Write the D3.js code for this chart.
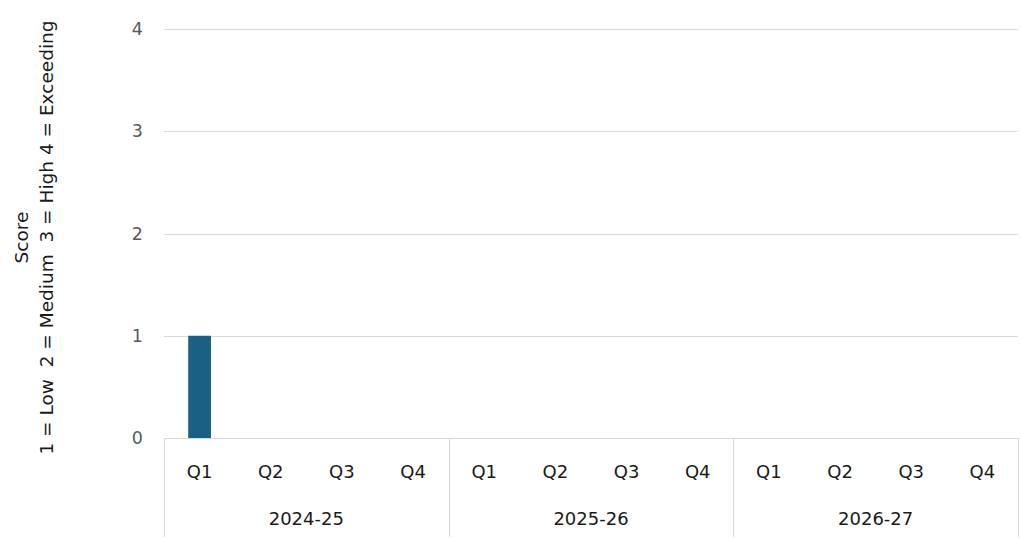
<!DOCTYPE html>
<html>
<head>
<meta charset="utf-8">
<script src="https://cdn.jsdelivr.net/npm/d3@7"></script>
<style>
  html, body { margin: 0; padding: 0; background: #fff; }
  svg { display: block; font-family: "DejaVu Sans", "Liberation Sans", Arial, sans-serif; }
</style>
</head>
<body>
<div id="chart"></div>
<script>
// chart data
const years = ['2024-25', '2025-26', '2026-27'];
const quarters = ['Q1', 'Q2', 'Q3', 'Q4'];
const scores = [
  1, null, null, null,
  null, null, null, null,
  null, null, null, null
];
const yTicks = [0, 1, 2, 3, 4];
const titleLines = ['Score', '1 = Low  2 = Medium  3 = High 4 = Exceeding'];

const w = 1021, h = 540;
const m = { t: 29, r: 3, b: 102, l: 164 };
const iw = w - m.l - m.r, ih = h - m.t - m.b;

const rows = [];
years.forEach((y, i) => quarters.forEach((q, j) => {
  rows.push({ year: y, q, key: y + '|' + q, v: scores[i * 4 + j] });
}));

const svg = d3.select('#chart').append('svg').attr('width', w).attr('height', h);
const g = svg.append('g').attr('transform', `translate(${m.l},${m.t})`);

const x = d3.scaleBand().domain(rows.map(d => d.key)).range([0, iw]).paddingInner(0.68).paddingOuter(0.34);
const xYear = d3.scaleBand().domain(years).range([0, iw]);
const y = d3.scaleLinear().domain([0, 4]).range([ih, 0]);

// gridlines
g.selectAll('.grid').data(yTicks).join('line')
  .attr('x1', 0).attr('x2', iw)
  .attr('y1', d => Math.round(y(d)) + 0.5).attr('y2', d => Math.round(y(d)) + 0.5)
  .attr('stroke', '#d9d9d9').attr('stroke-width', 1);

// y tick labels
g.selectAll('.ytick').data(yTicks).join('text')
  .attr('x', -21).attr('y', d => y(d)).attr('dy', '0.35em')
  .attr('text-anchor', 'end').attr('fill', '#595959')
  .style('font-size', '17.5px').text(d => d);

// bars
g.selectAll('rect').data(rows.filter(d => d.v != null)).join('rect')
  .attr('x', d => x(d.key)).attr('width', x.bandwidth())
  .attr('y', d => y(d.v)).attr('height', d => y(0) - y(d.v))
  .attr('fill', '#186185');

// category axis: group dividers
const bounds = years.map(yr => xYear(yr)).concat([iw]);
g.selectAll('.div').data(bounds).join('line')
  .attr('x1', d => Math.round(d) + 0.5).attr('x2', d => Math.round(d) + 0.5)
  .attr('y1', ih).attr('y2', h - m.t - 3)
  .attr('stroke', '#d9d9d9').attr('stroke-width', 1);

// quarter labels
g.selectAll('.qlab').data(rows).join('text')
  .attr('x', d => x(d.key) + x.bandwidth() / 2).attr('y', ih + 40)
  .attr('text-anchor', 'middle').attr('fill', '#1a1a1a')
  .style('font-size', '18px').text(d => d.q);

// year labels
g.selectAll('.ylab').data(years).join('text')
  .attr('x', d => xYear(d) + xYear.bandwidth() / 2).attr('y', ih + 87)
  .attr('text-anchor', 'middle').attr('fill', '#1a1a1a')
  .style('font-size', '18px').text(d => d);

// axis title
svg.append('text')
  .attr('transform', `translate(22,${m.t + ih / 2 + 4}) rotate(-90)`)
  .attr('text-anchor', 'middle').attr('fill', '#1a1a1a')
  .style('font-size', '18.5px')
  .selectAll('tspan').data(titleLines).join('tspan')
  .attr('x', 0).attr('dy', (d, i) => i ? 25 : 6)
  .style('white-space', 'pre')
  .text(d => d);
</script>
</body>
</html>
